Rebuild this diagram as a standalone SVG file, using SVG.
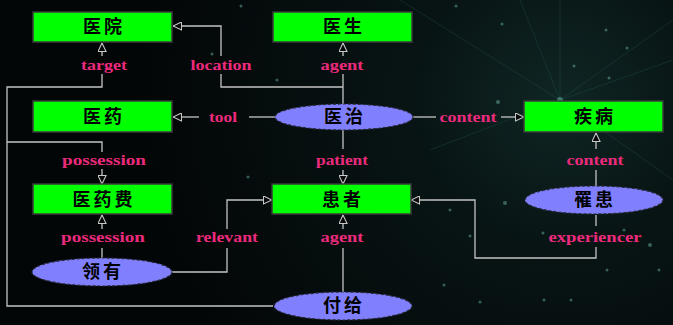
<svg xmlns="http://www.w3.org/2000/svg" width="673" height="325" viewBox="0 0 673 325">
<defs>
<radialGradient id="bg" cx="560" cy="100" r="420" gradientUnits="userSpaceOnUse">
<stop offset="0" stop-color="#0f2624"/>
<stop offset="0.35" stop-color="#081414"/>
<stop offset="1" stop-color="#030607"/>
</radialGradient>
<marker id="arr" viewBox="0 0 10 10" refX="10" refY="5" markerWidth="9" markerHeight="9" markerUnits="userSpaceOnUse" orient="auto">
<path d="M0.5,0.5 L10,5 L0.5,9.5 z" fill="#0a0a0a" stroke="#c8c8c8" stroke-width="1.2"/>
</marker>
<style>
.box{fill:#00ff00;stroke:#3a3a3a;stroke-width:1.5}
.ell{fill:#8080ff;stroke:#2a2a3a;stroke-width:1.2;stroke-dasharray:3 2}
.zh{font-family:"Noto Sans CJK SC","Noto Sans CJK TC",sans-serif;font-weight:bold;font-size:18px;fill:#000;text-anchor:middle;letter-spacing:3px}
.lbl{font-family:"Liberation Serif",serif;font-weight:bold;font-size:14px;fill:#ec2a7c;text-anchor:middle}
.ln{fill:none;stroke:#c4c4c4;stroke-width:1.3}
.star{fill:#7fd8c8;opacity:0.4}
.ray{stroke:#2a6660;stroke-width:0.8;opacity:0.35}
</style>
</defs>
<rect width="673" height="325" fill="url(#bg)"/>
<g id="background">
<line class="ray" x1="560" y1="100" x2="673" y2="20"/>
<line class="ray" x1="560" y1="100" x2="673" y2="60"/>
<line class="ray" x1="560" y1="100" x2="400" y2="0"/>
<line class="ray" x1="560" y1="100" x2="520" y2="0"/>
<line class="ray" x1="560" y1="100" x2="673" y2="180"/>
<line class="ray" x1="560" y1="100" x2="430" y2="150"/>
<line class="ray" x1="560" y1="100" x2="560" y2="0"/>
<circle class="star" cx="560" cy="100" r="3" opacity="0.7"/>
<circle class="star" cx="498" cy="102" r="2"/>
<circle class="star" cx="241" cy="6" r="1.5"/>
<circle class="star" cx="212" cy="54" r="1.5"/>
<circle class="star" cx="277" cy="80" r="1.5"/>
<circle class="star" cx="456" cy="6" r="1.5"/>
<circle class="star" cx="502" cy="24" r="1.5"/>
<circle class="star" cx="606" cy="30" r="1.5"/>
<circle class="star" cx="627" cy="48" r="1.5"/>
<circle class="star" cx="574" cy="66" r="1.5"/>
<circle class="star" cx="609" cy="78" r="1.5"/>
<circle class="star" cx="505" cy="203" r="2"/>
<circle class="star" cx="650" cy="245" r="2"/>
<circle class="star" cx="624" cy="230" r="1.5"/>
<circle class="star" cx="543" cy="233" r="1.5"/>
<circle class="star" cx="607" cy="270" r="1.5"/>
<circle class="star" cx="544" cy="300" r="1.5"/>
<circle class="star" cx="571" cy="300" r="1.5"/>
<circle class="star" cx="480" cy="302" r="1.5"/>
<circle class="star" cx="444" cy="285" r="1.5"/>
<circle class="star" cx="659" cy="270" r="1.5"/>
<circle class="star" cx="248" cy="177" r="1.5"/>
<circle class="star" cx="450" cy="210" r="1.5"/>
<circle class="star" cx="470" cy="236" r="1.5"/>
</g>
<g id="connectors">
<path class="ln" d="M343,105 V74"/>
<path class="ln" d="M343,56 V43" marker-end="url(#arr)"/>
<path class="ln" d="M343,87 H221 V74"/>
<path class="ln" d="M221,56 V26 H173" marker-end="url(#arr)"/>
<path class="ln" d="M273,306 H7 V87 H102 V74"/>
<path class="ln" d="M102,56 V43" marker-end="url(#arr)"/>
<path class="ln" d="M7,142 H102 V152"/>
<path class="ln" d="M102,169 V184" marker-end="url(#arr)"/>
<path class="ln" d="M275,117 H249"/>
<path class="ln" d="M199,117 H173" marker-end="url(#arr)"/>
<path class="ln" d="M413,117 H436"/>
<path class="ln" d="M501,117 H524" marker-end="url(#arr)"/>
<path class="ln" d="M343,130 V149"/>
<path class="ln" d="M343,170 V184" marker-end="url(#arr)"/>
<path class="ln" d="M596,186 V170"/>
<path class="ln" d="M596,149 V133" marker-end="url(#arr)"/>
<path class="ln" d="M596,215 V226"/>
<path class="ln" d="M596,247 V258 H475 V200 H411" marker-end="url(#arr)"/>
<path class="ln" d="M343,292 V248"/>
<path class="ln" d="M343,229 V215" marker-end="url(#arr)"/>
<path class="ln" d="M102,258 V248"/>
<path class="ln" d="M102,229 V215" marker-end="url(#arr)"/>
<path class="ln" d="M172,272 H227 V248"/>
<path class="ln" d="M227,229 V200 H272" marker-end="url(#arr)"/>
</g>
<g id="labels">
<text class="lbl" x="104" y="70" textLength="46" lengthAdjust="spacingAndGlyphs">target</text>
<text class="lbl" x="221" y="70" textLength="61" lengthAdjust="spacingAndGlyphs">location</text>
<text class="lbl" x="342" y="70" textLength="43" lengthAdjust="spacingAndGlyphs">agent</text>
<text class="lbl" x="223" y="122" textLength="28" lengthAdjust="spacingAndGlyphs">tool</text>
<text class="lbl" x="468" y="122" textLength="57" lengthAdjust="spacingAndGlyphs">content</text>
<text class="lbl" x="104" y="165" textLength="84" lengthAdjust="spacingAndGlyphs">possession</text>
<text class="lbl" x="342" y="165" textLength="52" lengthAdjust="spacingAndGlyphs">patient</text>
<text class="lbl" x="595" y="165" textLength="57" lengthAdjust="spacingAndGlyphs">content</text>
<text class="lbl" x="103" y="242" textLength="84" lengthAdjust="spacingAndGlyphs">possession</text>
<text class="lbl" x="227" y="242" textLength="62" lengthAdjust="spacingAndGlyphs">relevant</text>
<text class="lbl" x="342" y="242" textLength="43" lengthAdjust="spacingAndGlyphs">agent</text>
<text class="lbl" x="595" y="242" textLength="93" lengthAdjust="spacingAndGlyphs">experiencer</text>
</g>
<g id="node-yiyuan"><rect class="box" x="33" y="12" width="139" height="30"/><text class="zh" x="104" y="33">医院</text></g>
<g id="node-yisheng"><rect class="box" x="273" y="12" width="139" height="30"/><text class="zh" x="344" y="33">医生</text></g>
<g id="node-yiyao"><rect class="box" x="33" y="101" width="139" height="31"/><text class="zh" x="104" y="123">医药</text></g>
<g id="node-yizhi"><ellipse class="ell" cx="344" cy="117" rx="69" ry="13"/><text class="zh" x="345" y="123">医治</text></g>
<g id="node-jibing"><rect class="box" x="524" y="101" width="139" height="31"/><text class="zh" x="595" y="123">疾病</text></g>
<g id="node-yiyaofei"><rect class="box" x="33" y="184" width="139" height="30"/><text class="zh" x="104" y="206">医药费</text></g>
<g id="node-huanzhe"><rect class="box" x="272" y="184" width="139" height="30"/><text class="zh" x="343" y="206">患者</text></g>
<g id="node-lihuan"><ellipse class="ell" cx="594" cy="200" rx="69" ry="14"/><text class="zh" x="595" y="206">罹患</text></g>
<g id="node-lingyou"><ellipse class="ell" cx="102" cy="272" rx="70" ry="14"/><text class="zh" x="103" y="278">领有</text></g>
<g id="node-fugei"><ellipse class="ell" cx="343" cy="306" rx="69" ry="14"/><text class="zh" x="344" y="312">付给</text></g>
</svg>
